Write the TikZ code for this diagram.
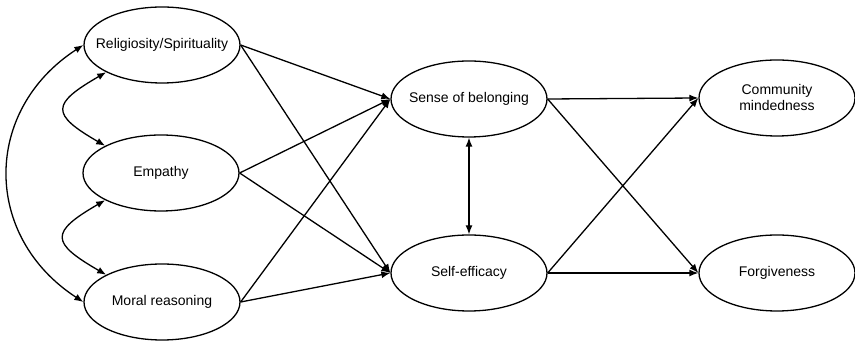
\documentclass[tikz,border=0pt]{standalone}
\usepackage{fontspec}
\setmainfont{Liberation Sans}
\usetikzlibrary{arrows.meta, positioning, shapes.geometric}

\begin{document}
\begin{tikzpicture}[x=1pt, y=1pt, font=\fontsize{14}{16}\selectfont, line width=1.3pt,
    lat/.style={draw, ellipse, inner xsep=-30pt, inner ysep=0pt, minimum width=156pt, minimum height=76pt, align=center},
    arr/.style={-{Latex[length=9pt, width=7pt]}},
    dbl/.style={{Latex[length=9pt, width=7pt]}-{Latex[length=9pt, width=7pt]}}]
    \useasboundingbox (0,0) rectangle (855,342);
    \node[lat] (rel)  at (162, 297) {Religiosity/Spirituality};
    \node[lat] (emp)  at (161, 169) {Empathy};
    \node[lat] (mor)  at (162, 40)  {Moral reasoning};
    \node[lat] (sob)  at (469, 243) {Sense of belonging};
    \node[lat] (sef)  at (469, 69)  {Self-efficacy};
    \node[lat] (com)  at (777, 244) {Community\\mindedness};
    \node[lat] (forg) at (777, 69)  {Forgiveness};

    \foreach \s in {rel, emp, mor} \foreach \t in {sob, sef} \draw[arr] (\s.east) -- (\t.west);
    \foreach \s in {sob, sef} \foreach \t in {com, forg} \draw[arr] (\s.east) -- (\t.west);
    \draw[dbl] (sob.south) -- (sef.north);

    \draw[dbl] (rel.west) to[out=213, in=147, looseness=1.2] (mor.west);
    \draw[dbl] (rel.206) to[out=210, in=150, looseness=2.2] (emp.154);
    \draw[dbl] (emp.206) to[out=210, in=150, looseness=2.2] (mor.154);
\end{tikzpicture}
\end{document}
